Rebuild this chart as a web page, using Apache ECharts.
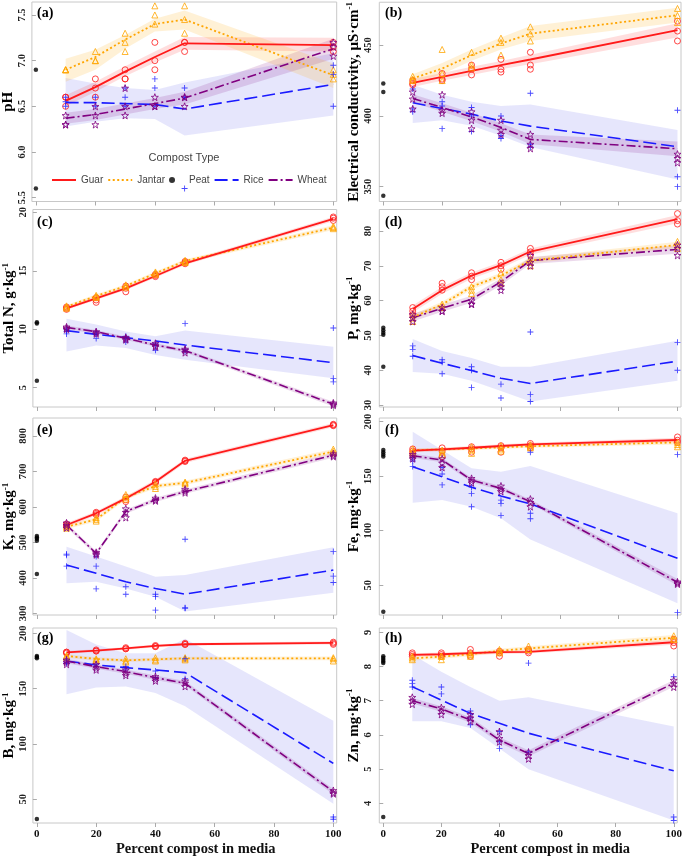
<!DOCTYPE html>
<html><head><meta charset="utf-8">
<script src="https://cdn.jsdelivr.net/npm/echarts@6/dist/echarts.min.js"></script>
<style>html,body{margin:0;padding:0;background:#fff}#c{width:685px;height:858px}</style>
</head><body><div id="c"></div>
<script>
// ---------- shared ----------
const X = [10, 20, 30, 40, 50, 100];
const X_TICKS = [0, 20, 40, 60, 80, 100];
const TYPES = ['Guar', 'Jantar', 'Rice', 'Wheat'];

// ---------- (a) pH ----------
const pH_ticks = [5.5, 6.0, 6.5, 7.0, 7.5];
const pH_Guar_fit = [6.56, 6.71, 6.88, 7.04, 7.19, 7.17];
const pH_Guar_lo = [6.50, 6.66, 6.83, 6.98, 7.12, 7.10];
const pH_Guar_hi = [6.62, 6.77, 6.94, 7.10, 7.26, 7.25];
const pH_Guar_pts = [[6.6, 6.6, 6.5], [6.8, 6.7, 6.6], [6.9, 6.8, 6.8], [7.2, 6.9, 7.0], [7.2, 7.1, 7.2], [7.2, 7.15, 7.1]];
const pH_Jantar_fit = [6.90, 7.04, 7.23, 7.40, 7.45, 6.84];
const pH_Jantar_lo = [6.77, 6.90, 7.13, 7.32, 7.34, 6.70];
const pH_Jantar_hi = [7.02, 7.12, 7.28, 7.46, 7.55, 6.97];
const pH_Jantar_pts = [[6.9, 6.9, 6.9], [7.1, 7.0, 7.0], [7.3, 7.2, 7.1], [7.6, 7.5, 7.4], [7.6, 7.3, 7.45], [6.85, 6.9, 6.8]];
const pH_Rice_fit = [6.54, 6.54, 6.53, 6.52, 6.47, 6.74];
const pH_Rice_lo = [6.28, 6.33, 6.37, 6.36, 6.18, 6.40];
const pH_Rice_hi = [6.81, 6.75, 6.70, 6.68, 6.76, 7.08];
const pH_Rice_pts = [[6.6, 6.5, 6.55], [6.6, 6.5], [6.6, 6.7, 6.5], [6.8, 6.7, 6.5], [6.7, 6.6, 5.6], [6.95, 6.85, 6.5]];
const pH_Wheat_fit = [6.37, 6.41, 6.47, 6.53, 6.59, 7.13];
const pH_Wheat_lo = [6.31, 6.35, 6.41, 6.47, 6.52, 7.02];
const pH_Wheat_hi = [6.43, 6.47, 6.53, 6.59, 6.66, 7.24];
const pH_Wheat_pts = [[6.4, 6.3, 6.3], [6.5, 6.4, 6.3], [6.7, 6.5, 6.4], [6.6, 6.5, 6.5], [6.6, 6.5, 6.6], [7.2, 7.15, 7.05]];
const pH_Peat = [6.9, 5.6];

// ---------- (b) EC ----------
const EC_ticks = [350, 400, 450];
const EC_Guar_fit = [423.4, 427.6, 431.9, 435.9, 439.9, 460.6];
const EC_Guar_lo = [420.5, 424.8, 429.0, 433.0, 436.5, 455.5];
const EC_Guar_hi = [426.3, 430.4, 434.8, 438.8, 443.3, 465.5];
const EC_Guar_pts = [[425, 423, 422], [430, 426, 425], [436, 433, 429], [440, 433, 431], [445, 436, 433], [467, 460, 453]];
const EC_Jantar_fit = [426.5, 433.5, 442.9, 451.2, 458.2, 471.2];
const EC_Jantar_lo = [423.5, 429.5, 439.0, 447.0, 453.0, 466.0];
const EC_Jantar_hi = [429.5, 437.5, 447.0, 455.5, 463.5, 476.5];
const EC_Jantar_pts = [[428, 426, 425], [447, 430, 425], [445, 436, 434], [455, 452, 443], [463, 458, 453], [476, 471, 466]];
const EC_Rice_fit = [409.3, 405.3, 401.3, 396.4, 392.8, 378.2];
const EC_Rice_lo = [395, 397, 393, 386, 378, 355];
const EC_Rice_hi = [422, 415, 410, 407, 408, 390];
const EC_Rice_pts = [[419, 405, 403], [410, 407, 391], [406, 400, 389], [400, 386, 384], [416, 380, 378], [404, 357, 350]];
const EC_Wheat_fit = [412.4, 406.0, 399.3, 391.8, 383.4, 376.8];
const EC_Wheat_lo = [409.5, 403.0, 396.3, 388.8, 380.0, 371.5];
const EC_Wheat_hi = [415.3, 409.0, 402.3, 394.8, 386.8, 382.0];
const EC_Wheat_pts = [[417, 412, 405], [415, 404, 402], [403, 397, 391], [397, 390, 387], [387, 380, 377], [373, 370, 367]];
const EC_Peat = [423, 417, 343.5];

// ---------- (c) Total N ----------
const N_ticks = [5, 10, 15, 20];
const N_Guar_fit = [11.79, 12.64, 13.50, 14.55, 15.64, 19.43];
const N_Guar_lo = [11.64, 12.49, 13.35, 14.40, 15.49, 19.23];
const N_Guar_hi = [11.94, 12.79, 13.65, 14.70, 15.79, 19.63];
const N_Guar_pts = [[11.7, 11.8, 11.9], [12.3, 12.5, 12.7], [13.2, 13.5, 13.7], [14.5, 14.6, 14.7], [15.6, 15.7, 15.8], [19.3, 19.5, 19.6]];
const N_Jantar_fit = [11.93, 12.84, 13.70, 14.78, 15.84, 18.69];
const N_Jantar_lo = [11.78, 12.69, 13.55, 14.63, 15.69, 18.49];
const N_Jantar_hi = [12.08, 12.99, 13.85, 14.93, 15.99, 18.89];
const N_Jantar_pts = [[11.8, 11.9, 12.0], [12.7, 12.8, 12.9], [13.6, 13.8, 13.7], [14.7, 14.8, 14.9], [15.8, 15.9, 15.7], [18.6, 18.8, 18.7]];
const N_Rice_fit = [9.88, 9.56, 9.28, 9.00, 8.65, 7.14];
const N_Rice_lo = [8.1, 8.6, 8.4, 7.8, 7.4, 5.8];
const N_Rice_hi = [10.9, 10.4, 9.8, 9.4, 9.9, 8.5];
const N_Rice_pts = [[10.0, 9.8, 9.6], [9.8, 9.6, 9.2], [9.4, 9.2, 8.9], [8.8, 8.6, 8.2], [10.5, 8.3, 8.1], [10.1, 5.5, 5.8]];
const N_Wheat_fit = [10.16, 9.79, 9.22, 8.65, 8.17, 3.60];
const N_Wheat_lo = [10.00, 9.64, 9.07, 8.50, 8.02, 3.40];
const N_Wheat_hi = [10.32, 9.94, 9.37, 8.80, 8.32, 3.80];
const N_Wheat_pts = [[10.2, 10.1, 10.0], [9.8, 9.7, 9.6], [9.3, 9.2, 9.1], [8.8, 8.6, 8.5], [8.3, 8.2, 8.0], [3.7, 3.6, 3.5]];
const N_Peat = [10.6, 10.5, 5.6];

// ---------- (d) P ----------
const P_ticks = [30, 40, 50, 60, 70, 80];
const P_Guar_fit = [57.6, 63.0, 67.2, 70.2, 74.1, 83.4];
const P_Guar_lo = [56.6, 62.0, 66.3, 69.3, 73.2, 82.2];
const P_Guar_hi = [58.6, 64.0, 68.1, 71.1, 75.0, 84.6];
const P_Guar_pts = [[58, 57, 56], [65, 64, 63], [68, 67, 66], [71, 70, 69], [75, 74, 73], [85, 83, 82]];
const P_Jantar_fit = [55.2, 58.9, 64.0, 67.2, 71.5, 76.0];
const P_Jantar_lo = [54.4, 58.1, 63.2, 66.4, 70.7, 75.1];
const P_Jantar_hi = [56.0, 59.7, 64.8, 68.0, 72.3, 76.9];
const P_Jantar_pts = [[56, 55, 54], [59, 58, 58], [64, 63, 62], [68, 66, 65], [72, 71, 70], [77, 76, 75]];
const P_Rice_fit = [44.2, 42.0, 39.9, 37.7, 36.2, 42.6];
const P_Rice_lo = [39.5, 39.0, 37.0, 34.0, 31.0, 37.0];
const P_Rice_hi = [49.0, 45.5, 43.5, 41.0, 41.0, 48.5];
const P_Rice_pts = [[47, 46, 44], [43, 42.3, 39], [41, 40, 35], [36, 32], [51, 33, 31], [48, 40]];
const P_Wheat_fit = [55.1, 57.8, 60.4, 65.4, 71.5, 74.7];
const P_Wheat_lo = [54.0, 56.8, 59.4, 64.4, 70.5, 73.5];
const P_Wheat_hi = [56.2, 58.8, 61.4, 66.4, 72.5, 75.9];
const P_Wheat_pts = [[56, 55, 54], [58, 57, 57], [60, 59, 59], [65, 64, 63], [73, 71, 70], [76, 75, 73]];
const P_Peat = [52.2, 51.5, 50.8, 50.2, 41.0];

// ---------- (e) K ----------
const K_ticks = [300, 400, 500, 600, 700, 800];
const K_Guar_fit = [549, 582, 624, 671, 730, 831];
const K_Guar_lo = [543, 576, 618, 665, 724, 825];
const K_Guar_hi = [555, 588, 630, 677, 736, 837];
const K_Guar_pts = [[552, 549, 545], [585, 582, 578], [628, 620, 615], [672, 668, 670], [732, 728, 730], [833, 829, 831]];
const K_Jantar_fit = [544, 565, 627, 659, 668, 756];
const K_Jantar_lo = [538, 559, 621, 653, 662, 749];
const K_Jantar_hi = [550, 571, 633, 665, 674, 763];
const K_Jantar_pts = [[548, 544, 540], [570, 565, 560], [635, 628, 622], [665, 658, 652], [670, 668, 665], [763, 757, 752]];
const K_Rice_fit = [436, 413, 389, 370, 354, 422];
const K_Rice_lo = [385, 389, 370, 347, 305, 358];
const K_Rice_hi = [488, 460, 432, 403, 408, 486];
const K_Rice_pts = [[467, 464, 433], [460, 433, 369], [375, 354], [354, 347, 309], [509, 316, 314], [474, 405, 387]];
const K_Wheat_fit = [549, 469, 587, 620, 643, 746];
const K_Wheat_lo = [543, 463, 581, 614, 637, 739];
const K_Wheat_hi = [555, 475, 593, 626, 649, 753];
const K_Wheat_pts = [[555, 548, 541], [472, 468, 465], [595, 585, 570], [625, 620, 617], [650, 645, 640], [750, 745, 742]];
const K_Peat = [518, 514, 510, 505, 411];

// ---------- (f) Fe ----------
const Fe_ticks = [50, 100, 150, 200];
const Fe_Guar_fit = [173.4, 174.6, 176.1, 177.7, 179.2, 183.2];
const Fe_Guar_lo = [171.9, 173.1, 174.6, 176.2, 177.7, 181.2];
const Fe_Guar_hi = [174.9, 176.1, 177.6, 179.2, 180.7, 185.2];
const Fe_Guar_pts = [[175, 173, 171], [176, 173, 168], [177, 175, 172], [178, 176, 172], [180, 178, 176], [186, 183, 181]];
const Fe_Jantar_fit = [174.0, 174.5, 175.5, 176.5, 177.5, 181.0];
const Fe_Jantar_lo = [172.5, 173.0, 174.0, 175.0, 176.0, 179.0];
const Fe_Jantar_hi = [175.5, 176.0, 177.0, 178.0, 179.0, 183.0];
const Fe_Jantar_pts = [[175, 172, 170], [174, 172, 170], [177, 174, 171], [178, 175, 173], [179, 177, 176], [181, 179, 177]];
const Fe_Rice_fit = [158.7, 149.5, 139.8, 131.8, 124.5, 74.6];
const Fe_Rice_lo = [125.7, 128.1, 122.0, 111.3, 92.0, 33.3];
const Fe_Rice_hi = [190.8, 174.0, 157.2, 154.1, 159.3, 115.9];
const Fe_Rice_pts = [[167, 164, 159], [158, 152, 142], [140, 134, 122], [128, 125, 114], [172, 116, 111], [170, 25]];
const Fe_Wheat_fit = [168.8, 164.8, 146.5, 138.8, 126.6, 52.6];
const Fe_Wheat_lo = [166.8, 162.8, 144.5, 136.8, 124.6, 49.6];
const Fe_Wheat_hi = [170.8, 166.8, 148.5, 140.8, 128.6, 55.6];
const Fe_Wheat_pts = [[170, 168, 166], [166, 162, 158], [148, 146, 144], [141, 138, 136], [129, 126, 122], [53, 52, 51]];
const Fe_Peat = [174, 172, 170, 168, 25.5];

// ---------- (g) B ----------
const B_ticks = [50, 100, 150, 200];
const B_Guar_fit = [182.8, 184.3, 186.4, 188.6, 190.1, 191.3];
const B_Guar_lo = [181.6, 183.1, 185.2, 187.4, 188.9, 189.8];
const B_Guar_hi = [184.0, 185.5, 187.6, 189.8, 191.3, 192.8];
const B_Guar_pts = [[183, 182, 183], [185, 184, 184], [187, 186, 186], [189, 188, 188], [191, 190, 190], [192, 190, 191]];
const B_Jantar_fit = [179.5, 176.8, 175.6, 176.5, 177.4, 177.4];
const B_Jantar_lo = [178.0, 175.3, 174.1, 175.0, 175.9, 175.7];
const B_Jantar_hi = [181.0, 178.3, 177.1, 178.0, 178.9, 179.1];
const B_Jantar_pts = [[180, 179, 178], [177, 176, 175], [177, 175, 174], [178, 176, 175], [178, 177, 176], [178, 177, 175]];
const B_Rice_fit = [175.0, 171.4, 169.0, 166.9, 164.5, 82.5];
const B_Rice_lo = [145, 151, 152, 146, 134, 46];
const B_Rice_hi = [203, 190, 182, 182, 195, 121];
const B_Rice_pts = [[176, 174, 173], [172, 170], [170, 167], [166, 160], [177, 159], [34, 32]];
const B_Wheat_fit = [175.0, 169.9, 165.4, 159.9, 154.8, 56.9];
const B_Wheat_lo = [173.0, 167.9, 163.4, 157.9, 152.8, 54.4];
const B_Wheat_hi = [177.0, 171.9, 167.4, 161.9, 156.8, 59.4];
const B_Wheat_pts = [[176, 174, 172], [172, 169, 167], [167, 164, 162], [161, 159, 157], [157, 155, 152], [58, 56, 55]];
const B_Peat = [179.5, 178.5, 177.5, 32.2];

// ---------- (h) Zn ----------
const Zn_ticks = [4, 5, 6, 7, 8, 9];
const Zn_Guar_fit = [8.34, 8.36, 8.39, 8.42, 8.43, 8.71];
const Zn_Guar_lo = [8.29, 8.31, 8.34, 8.37, 8.38, 8.64];
const Zn_Guar_hi = [8.39, 8.41, 8.44, 8.47, 8.48, 8.78];
const Zn_Guar_pts = [[8.4, 8.35, 8.3], [8.4, 8.35, 8.3], [8.5, 8.4, 8.3], [8.4, 8.3, 8.45], [8.5, 8.4, 8.45], [8.8, 8.7, 8.6]];
const Zn_Jantar_fit = [8.24, 8.29, 8.36, 8.46, 8.53, 8.84];
const Zn_Jantar_lo = [8.18, 8.23, 8.30, 8.40, 8.47, 8.76];
const Zn_Jantar_hi = [8.30, 8.35, 8.42, 8.52, 8.59, 8.92];
const Zn_Jantar_pts = [[8.3, 8.2, 8.25], [8.3, 8.2, 8.3], [8.4, 8.3, 8.35], [8.5, 8.4, 8.45], [8.6, 8.5, 8.5], [8.9, 8.8, 8.8]];
const Zn_Rice_fit = [7.41, 7.02, 6.63, 6.34, 6.05, 4.95];
const Zn_Rice_lo = [6.4, 6.4, 6.2, 5.6, 5.0, 3.5];
const Zn_Rice_hi = [8.35, 7.85, 7.4, 7.0, 7.1, 6.25];
const Zn_Rice_pts = [[7.6, 7.5, 7.4], [7.4, 7.2], [6.7, 6.5, 6.3], [6.1, 5.8, 5.6], [8.1, 5.5], [7.7, 3.6, 3.5]];
const Zn_Wheat_fit = [7.00, 6.76, 6.44, 5.85, 5.46, 7.51];
const Zn_Wheat_lo = [6.92, 6.68, 6.36, 5.77, 5.37, 7.41];
const Zn_Wheat_hi = [7.08, 6.84, 6.52, 5.93, 5.55, 7.61];
const Zn_Wheat_pts = [[7.1, 7.0, 6.9], [6.8, 6.7, 6.6], [6.6, 6.5, 6.4], [6.1, 5.9, 5.8], [5.5, 5.4, 5.3], [7.6, 7.5, 7.4]];
const Zn_Peat = [8.3, 8.25, 8.2, 8.15, 8.1, 3.6];

// ---------- panel assembly ----------
function set(fit, lo, hi, pts) { return { fit, lo, hi, pts }; }
const panels = [
  { lab: '(a)', name: 'pH', sup: '', ticks: pH_ticks, dec: 1, min: 5.458, max: 7.642, col: 0, row: 0, peat: pH_Peat,
    d: { Guar: set(pH_Guar_fit, pH_Guar_lo, pH_Guar_hi, pH_Guar_pts), Jantar: set(pH_Jantar_fit, pH_Jantar_lo, pH_Jantar_hi, pH_Jantar_pts), Rice: set(pH_Rice_fit, pH_Rice_lo, pH_Rice_hi, pH_Rice_pts), Wheat: set(pH_Wheat_fit, pH_Wheat_lo, pH_Wheat_hi, pH_Wheat_pts) } },
  { lab: '(b)', name: 'Electrical conductivity, μS·cm', sup: '-1', ticks: EC_ticks, dec: 0, min: 339.5, max: 480.4, col: 1, row: 0, peat: EC_Peat,
    d: { Guar: set(EC_Guar_fit, EC_Guar_lo, EC_Guar_hi, EC_Guar_pts), Jantar: set(EC_Jantar_fit, EC_Jantar_lo, EC_Jantar_hi, EC_Jantar_pts), Rice: set(EC_Rice_fit, EC_Rice_lo, EC_Rice_hi, EC_Rice_pts), Wheat: set(EC_Wheat_fit, EC_Wheat_lo, EC_Wheat_hi, EC_Wheat_pts) } },
  { lab: '(c)', name: 'Total N, g·kg', sup: '-1', ticks: N_ticks, dec: 0, min: 3.35, max: 20.24, col: 0, row: 1, peat: N_Peat,
    d: { Guar: set(N_Guar_fit, N_Guar_lo, N_Guar_hi, N_Guar_pts), Jantar: set(N_Jantar_fit, N_Jantar_lo, N_Jantar_hi, N_Jantar_pts), Rice: set(N_Rice_fit, N_Rice_lo, N_Rice_hi, N_Rice_pts), Wheat: set(N_Wheat_fit, N_Wheat_lo, N_Wheat_hi, N_Wheat_pts) } },
  { lab: '(d)', name: 'P, mg·kg', sup: '-1', ticks: P_ticks, dec: 0, min: 29.43, max: 86.18, col: 1, row: 1, peat: P_Peat,
    d: { Guar: set(P_Guar_fit, P_Guar_lo, P_Guar_hi, P_Guar_pts), Jantar: set(P_Jantar_fit, P_Jantar_lo, P_Jantar_hi, P_Jantar_pts), Rice: set(P_Rice_fit, P_Rice_lo, P_Rice_hi, P_Rice_pts), Wheat: set(P_Wheat_fit, P_Wheat_lo, P_Wheat_hi, P_Wheat_pts) } },
  { lab: '(e)', name: 'K, mg·kg', sup: '-1', ticks: K_ticks, dec: 0, min: 295.3, max: 850.75, col: 0, row: 2, peat: K_Peat,
    d: { Guar: set(K_Guar_fit, K_Guar_lo, K_Guar_hi, K_Guar_pts), Jantar: set(K_Jantar_fit, K_Jantar_lo, K_Jantar_hi, K_Jantar_pts), Rice: set(K_Rice_fit, K_Rice_lo, K_Rice_hi, K_Rice_pts), Wheat: set(K_Wheat_fit, K_Wheat_lo, K_Wheat_hi, K_Wheat_pts) } },
  { lab: '(f)', name: 'Fe, mg·kg', sup: '-1', ticks: Fe_ticks, dec: 0, min: 22.6, max: 203.4, col: 1, row: 2, peat: Fe_Peat,
    d: { Guar: set(Fe_Guar_fit, Fe_Guar_lo, Fe_Guar_hi, Fe_Guar_pts), Jantar: set(Fe_Jantar_fit, Fe_Jantar_lo, Fe_Jantar_hi, Fe_Jantar_pts), Rice: set(Fe_Rice_fit, Fe_Rice_lo, Fe_Rice_hi, Fe_Rice_pts), Wheat: set(Fe_Wheat_fit, Fe_Wheat_lo, Fe_Wheat_hi, Fe_Wheat_pts) } },
  { lab: '(g)', name: 'B, mg·kg', sup: '-1', ticks: B_ticks, dec: 0, min: 28.6, max: 204.8, col: 0, row: 3, peat: B_Peat,
    d: { Guar: set(B_Guar_fit, B_Guar_lo, B_Guar_hi, B_Guar_pts), Jantar: set(B_Jantar_fit, B_Jantar_lo, B_Jantar_hi, B_Jantar_pts), Rice: set(B_Rice_fit, B_Rice_lo, B_Rice_hi, B_Rice_pts), Wheat: set(B_Wheat_fit, B_Wheat_lo, B_Wheat_hi, B_Wheat_pts) } },
  { lab: '(h)', name: 'Zn, mg·kg', sup: '-1', ticks: Zn_ticks, dec: 0, min: 3.425, max: 9.127, col: 1, row: 3, peat: Zn_Peat,
    d: { Guar: set(Zn_Guar_fit, Zn_Guar_lo, Zn_Guar_hi, Zn_Guar_pts), Jantar: set(Zn_Jantar_fit, Zn_Jantar_lo, Zn_Jantar_hi, Zn_Jantar_pts), Rice: set(Zn_Rice_fit, Zn_Rice_lo, Zn_Rice_hi, Zn_Rice_pts), Wheat: set(Zn_Wheat_fit, Zn_Wheat_lo, Zn_Wheat_hi, Zn_Wheat_pts) } }
];

// ---------- layout & style ----------
const COLS = [
  { left: 31.7, width: 305, xmin: -1.34, xmax: 101.14, labX: 37, namePad: 22 },
  { left: 379.3, width: 301.7, xmin: -1.36, xmax: 101.2, labX: 385, namePad: 44 }
];
const ROWS = [
  { top: 2, h: 199.5, labY: 14.5 },
  { top: 209.5, h: 197.5, labY: 223 },
  { top: 418, h: 197, labY: 431 },
  { top: 628, h: 195, labY: 639 }
];
const SERIF = '"Liberation Serif","Times New Roman",serif';
const SANS = '"Liberation Sans","Arial",sans-serif';
const STY = {
  Guar:   { color: '#ff1a1a', band: 'rgba(255,0,0,0.13)', dash: 'solid', width: 1.8,
            symbol: 'circle', size: 6 },
  Jantar: { color: '#ffa500', band: 'rgba(255,165,0,0.16)', dash: [2, 2.5], width: 1.8,
            symbol: 'triangle', size: 6 },
  Rice:   { color: '#1a1aff', band: 'rgba(60,60,235,0.13)', dash: [13, 5], width: 1.6,
            symbol: 'path://M4.25,0H5.75V4.25H10V5.75H5.75V10H4.25V5.75H0V4.25H4.25Z', size: 6, filled: true },
  Wheat:  { color: '#800080', band: 'rgba(128,0,128,0.15)', dash: [9, 3, 2, 3], width: 1.6,
            symbol: 'path://M3.5,0L4.32,2.37L6.83,2.42L4.83,3.93L5.56,6.33L3.5,4.9L1.44,6.33L2.17,3.93L0.17,2.42L2.68,2.37Z', size: 7 }
};

// band polygon through the cartesian coordinate system
function bandRenderer(fill) {
  return function (params, api) {
    if (params.dataIndexInside !== 0) return null;
    const n = params.dataInsideLength != null ? params.dataInsideLength : X.length;
    const up = [], dn = [];
    for (let k = 0; k < n; k++) {
      up.push(api.coord([api.value(0, k), api.value(2, k)]));
      dn.push(api.coord([api.value(0, k), api.value(1, k)]));
    }
    return { type: 'polygon', shape: { points: up.concat(dn.reverse()) }, style: { fill: fill }, silent: true };
  };
}

const grids = [], xAxes = [], yAxes = [], series = [], graphics = [];

panels.forEach((P, i) => {
  const C = COLS[P.col], R = ROWS[P.row];
  const bottomRow = P.row === 3;
  grids.push({ left: C.left, top: R.top, width: C.width, height: R.h, show: true,
    borderColor: '#c8c8c8', borderWidth: 1, backgroundColor: 'transparent' });
  xAxes.push({
    gridIndex: i, type: 'value', min: C.xmin, max: C.xmax,
    axisLine: { show: false }, splitLine: { show: false },
    axisTick: { show: true, customValues: X_TICKS, length: 4, lineStyle: { color: '#aaaaaa' } },
    axisLabel: { show: bottomRow, customValues: X_TICKS, margin: 6, fontFamily: SERIF, fontWeight: 'bold', fontSize: 11, color: '#111' },
    name: bottomRow ? 'Percent compost in media' : '', nameLocation: 'middle', nameGap: 19,
    nameTextStyle: { fontFamily: SERIF, fontWeight: 'bold', fontSize: 14.5, color: '#111', padding: [0, 0, 0, C.namePad] }
  });
  const nm = P.sup ? '{t|' + P.name + '}{s|' + P.sup + '}' : '{t|' + P.name + '}';
  yAxes.push({
    gridIndex: i, type: 'value', min: P.min, max: P.max,
    axisLine: { show: false }, splitLine: { show: false },
    axisTick: { show: true, customValues: P.ticks, length: 4, lineStyle: { color: '#aaaaaa' } },
    axisLabel: { customValues: P.ticks, rotate: 90, margin: P.col === 0 ? 4 : 6,
      formatter: v => Number(v).toFixed(P.dec),
      fontFamily: SERIF, fontWeight: 'bold', fontSize: 10.5, color: '#222' },
    name: nm, nameLocation: 'middle', nameGap: P.col === 0 ? 14 : 17,
    nameTextStyle: { rich: {
      t: { fontFamily: SERIF, fontWeight: 'bold', fontSize: 15, color: '#000', lineHeight: 17 },
      s: { fontFamily: SERIF, fontWeight: 'bold', fontSize: 9, color: '#000', verticalAlign: 'top', lineHeight: 17 }
    } }
  });
  graphics.push({ type: 'text', left: C.labX, top: R.labY - 8, z: 100,
    style: { text: P.lab, font: 'bold 14px ' + SERIF, fill: '#000' } });

  // confidence bands
  ['Rice', 'Wheat', 'Guar', 'Jantar'].forEach(t => {
    const D = P.d[t];
    series.push({ type: 'custom', name: t + ' band', xAxisIndex: i, yAxisIndex: i, silent: true, z: 1,
      encode: { x: 0, y: [1, 2] },
      renderItem: bandRenderer(STY[t].band),
      data: X.map((x, k) => [x, D.lo[k], D.hi[k]]) });
  });
  // fitted lines
  ['Rice', 'Wheat', 'Jantar', 'Guar'].forEach(t => {
    const D = P.d[t], S = STY[t];
    series.push({ type: 'line', name: t, xAxisIndex: i, yAxisIndex: i, symbol: 'none', z: 3,
      lineStyle: { color: S.color, width: S.width, type: S.dash },
      itemStyle: { color: S.color },
      data: X.map((x, k) => [x, D.fit[k]]) });
  });
  // replicate points
  TYPES.forEach(t => {
    const D = P.d[t], S = STY[t];
    const pts = [];
    X.forEach((x, k) => D.pts[k].forEach(v => pts.push([x, v])));
    series.push({ type: 'scatter', name: t + ' points', xAxisIndex: i, yAxisIndex: i, z: 4,
      symbol: S.symbol, symbolSize: S.size,
      itemStyle: S.filled ? { color: S.color } : { color: 'rgba(0,0,0,0)', borderColor: S.color, borderWidth: 1 },
      data: pts });
  });
  // peat (x = 0)
  series.push({ type: 'scatter', name: 'Peat', xAxisIndex: i, yAxisIndex: i, z: 4,
    symbol: 'circle', symbolSize: 4.5, itemStyle: { color: '#000' },
    data: P.peat.map(v => [0, v]) });
});

graphics.push({ type: 'text', x: 184, y: 158, z: 100,
  style: { text: 'Compost Type', font: '11px ' + SANS, fill: '#444', align: 'center', verticalAlign: 'middle', textAlign: 'center', textVerticalAlign: 'middle' } });

const chart = echarts.init(document.getElementById('c'), null, { renderer: 'canvas' });
chart.setOption({
  animation: false,
  backgroundColor: '#fff',
  grid: grids, xAxis: xAxes, yAxis: yAxes, series: series,
  legend: {
    left: 46, top: 170, itemWidth: 24, itemHeight: 6, itemGap: 4, selectedMode: false,
    textStyle: { fontFamily: SANS, fontSize: 10, color: '#444' },
    data: [
      { name: 'Guar', itemStyle: { opacity: 0 } },
      { name: 'Jantar', itemStyle: { opacity: 0 } },
      { name: 'Peat' },
      { name: 'Rice', itemStyle: { opacity: 0 } },
      { name: 'Wheat', itemStyle: { opacity: 0 } }
    ]
  },
  graphic: graphics
});
</script></body></html>
